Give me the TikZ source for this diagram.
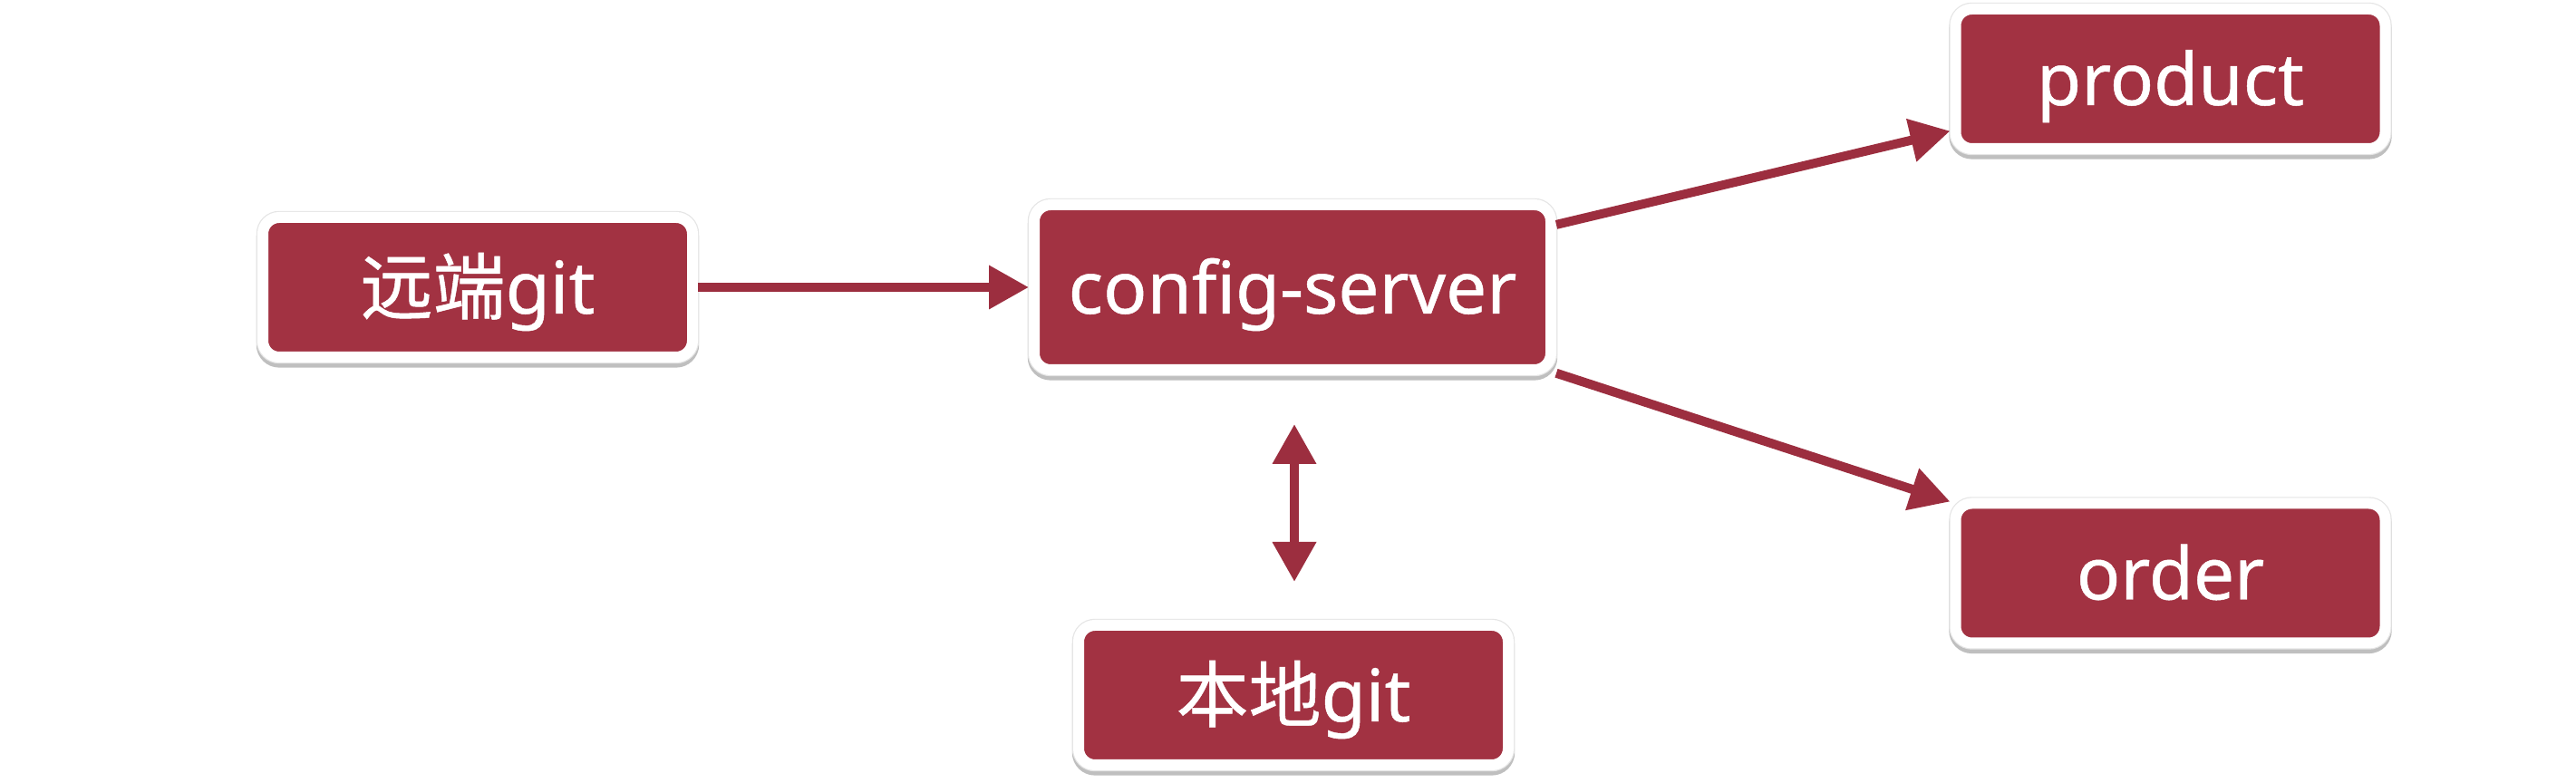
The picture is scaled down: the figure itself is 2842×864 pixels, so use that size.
\documentclass[tikz,border=0pt]{standalone}
\usepackage{fontspec}
\setmainfont{Noto Sans}[FakeBold=0.6]
\newfontfamily\cjk{Noto Sans CJK SC}[FakeBold=0.6]
\usepackage{tikz}
\usetikzlibrary{arrows.meta}

\definecolor{boxred}{RGB}{162,50,66}
\definecolor{arrowred}{RGB}{156,46,63}

\tikzset{
  cbox/.style={rectangle, rounded corners=4.5pt, fill=boxred, draw=white, line width=3pt,
    text=white, font=\fontsize{20}{24}\selectfont, inner sep=0pt,
    text height=14.5pt, text depth=0pt,
    minimum width=118.5pt, minimum height=38.5pt,
    preaction={draw=black!25, line width=3.6pt, transform canvas={yshift=-1.1pt}},
    preaction={draw=black!10, line width=3.6pt}},
  flow/.style={draw=arrowred, line width=2.5pt, -{Triangle[length=11pt,width=11.5pt]}},
  flowboth/.style={draw=arrowred, line width=2.5pt, {Triangle[length=11pt,width=11.5pt]}-{Triangle[length=11pt,width=11.5pt]}}
}

\begin{document}
\begin{tikzpicture}[x=0.25pt,y=0.25pt,yscale=-1,xscale=1]
%set diagram left start at 0, and has height of 864
\fill[white] (0,0) rectangle (2842,864);
\useasboundingbox (0,0) rectangle (2842,864);

%Rounded Rect: remote git
\node[cbox] (remotegit) at (527,317) {{\cjk 远端}git};
%Rounded Rect: config server
\node[cbox, minimum width=142.5pt, minimum height=45.5pt] (configsrv) at (1426,317) {config-server};
%Rounded Rect: product
\node[cbox] (product) at (2394.5,87) {product};
%Rounded Rect: order
\node[cbox] (order) at (2394.5,632.5) {order};
%Rounded Rect: local git
\node[cbox] (localgit) at (1427,767) {{\cjk 本地}git};

%Straight Lines
\draw[flow] (remotegit) -- (configsrv);

%Straight Lines
\draw[flow] (configsrv) -- (product);

%Straight Lines
\draw[flow] (configsrv) -- (order);

%Straight Lines
\draw[flowboth, shorten <=13.5pt, shorten >=10.5pt] ([xshift=0.5pt]configsrv.south) -- ([xshift=0.5pt]configsrv.south |- localgit.north);

\end{tikzpicture}
\end{document}
